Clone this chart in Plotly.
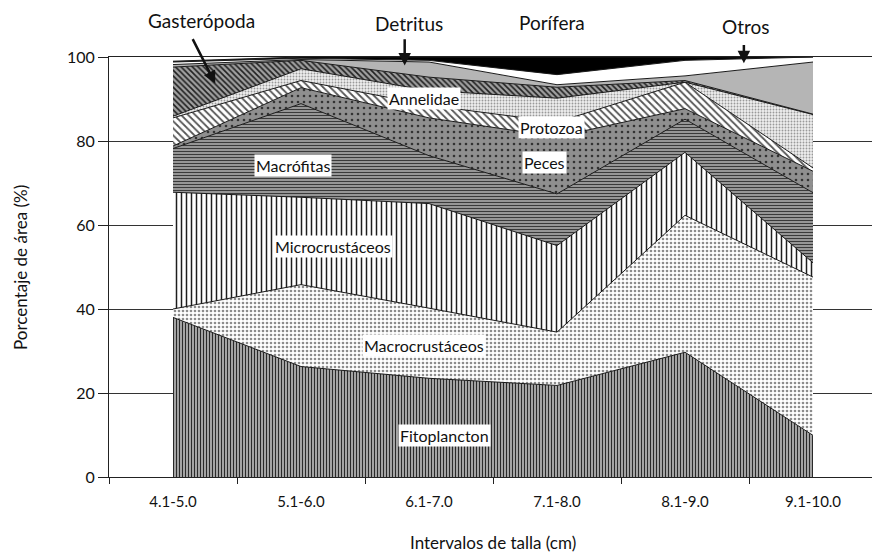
import plotly.graph_objects as go

categories = ["4.1-5.0", "5.1-6.0", "6.1-7.0", "7.1-8.0", "8.1-9.0", "9.1-10.0"]

fitoplancton = [38.0, 26.3, 23.5, 21.8, 29.7, 9.9]
macrocrustaceos = [2.0, 19.5, 16.7, 12.7, 32.6, 37.7]
microcrustaceos = [27.8, 20.8, 24.9, 20.6, 15.0, 3.4]
macrofitas = [10.4, 22.3, 11.4, 12.3, 7.9, 16.7]
peces = [0.6, 3.8, 9.0, 13.6, 2.5, 5.1]
protozoa = [6.7, 1.7, 3.0, 3.5, 6.3, 0.8]
annelidae = [0.4, 2.8, 3.5, 5.7, 0.0, 12.7]
gasteropoda = [11.7, 2.0, 3.2, 2.6, 0.4, 0.1]
detritus = [0.6, 0.2, 3.6, 0.6, 1.1, 12.4]
otros = [0.6, 0.3, 0.4, 2.4, 3.7, 1.2]
porifera = [0.2, 0.3, 0.8, 4.2, 0.8, 0.0]

series = [
    ("Fitoplancton", fitoplancton, dict(shape="|", bgcolor="#a3a3a3", fgcolor="#2a2a2a", size=3, solidity=0.35), None),
    ("Macrocrustáceos", macrocrustaceos, dict(shape=".", bgcolor="#ffffff", fgcolor="#8c8c8c", size=4, solidity=0.35), None),
    ("Microcrustáceos", microcrustaceos, dict(shape="|", bgcolor="#ffffff", fgcolor="#1e1e1e", size=5, solidity=0.3), None),
    ("Macrófitas", macrofitas, dict(shape="-", bgcolor="#a0a0a0", fgcolor="#3a3a3a", size=3, solidity=0.4), None),
    ("Peces", peces, dict(shape=".", bgcolor="#8f8f8f", fgcolor="#333333", size=6, solidity=0.15), None),
    ("Protozoa", protozoa, dict(shape="\\", bgcolor="#ffffff", fgcolor="#555555", size=5, solidity=0.35), None),
    ("Annelidae", annelidae, dict(shape=".", bgcolor="#eeeeee", fgcolor="#999999", size=3, solidity=0.3), None),
    ("Gasterópoda", gasteropoda, dict(shape="\\", bgcolor="#a0a0a0", fgcolor="#202020", size=4, solidity=0.4), None),
    ("Detritus", detritus, None, "#b5b5b5"),
    ("Otros", otros, None, "#ffffff"),
    ("Porífera", porifera, None, "#000000"),
]

fig = go.Figure()
for name, vals, pat, solid in series:
    kw = dict(
        x=list(range(len(categories))),
        y=vals,
        name=name,
        mode="lines",
        stackgroup="one",
        line=dict(color="#1a1a1a", width=1),
        hoverinfo="skip",
    )
    if pat is not None:
        kw["fillpattern"] = dict(fillmode="replace", **pat)
        kw["fillcolor"] = pat["bgcolor"]
    else:
        kw["fillcolor"] = solid
    fig.add_trace(go.Scatter(**kw))

FONT = "Lato, Open Sans, sans-serif"

# labels inside the chart (data coordinates)
inner_labels = [
    ("Fitoplancton", 2.12, 9.9),
    ("Macrocrustáceos", 1.96, 31.3),
    ("Microcrustáceos", 1.25, 54.9),
    ("Macrófitas", 0.94, 74.2),
    ("Annelidae", 1.96, 90.1),
    ("Protozoa", 2.96, 83.2),
    ("Peces", 2.9, 74.9),
]
for txt, x, y in inner_labels:
    fig.add_annotation(x=x, y=y, xref="x", yref="y", text=txt, showarrow=False,
                       bgcolor="#ffffff", borderpad=1,
                       font=dict(family=FONT, size=16, color="#111111"))

# top labels (paper coordinates, above the plot)
top_labels = [
    ("Gasterópoda", 0.120, 1.086),
    ("Detritus", 0.391, 1.080),
    ("Porífera", 0.577, 1.081),
    ("Otros", 0.829, 1.073),
]
for txt, x, y in top_labels:
    fig.add_annotation(x=x, y=y, xref="paper", yref="paper", xanchor="center", yanchor="middle",
                       text=txt, showarrow=False,
                       font=dict(family=FONT, size=19, color="#111111"))

arrows = [
    (0.148, 104.6, 0.33, 93.7),
    (1.81, 104.6, 1.81, 98.0),
    (2.94, 103.9, 2.94, 100.8),
    (4.46, 103.2, 4.46, 98.5),
]
for x0, y0, x1, y1 in arrows:
    fig.add_annotation(x=x1, y=y1, ax=x0, ay=y0, xref="x", yref="y", axref="x", ayref="y",
                       text="", showarrow=True, arrowhead=2, arrowsize=1, arrowwidth=2.5,
                       arrowcolor="#111111")

# axis titles
fig.add_annotation(x=-0.116, y=0.5, xref="paper", yref="paper", xanchor="center", yanchor="middle",
                   text="Porcentaje de área (%)", textangle=-90, showarrow=False,
                   font=dict(family=FONT, size=17, color="#111111"))
fig.add_annotation(x=0.5, y=-0.157, xref="paper", yref="paper", xanchor="center", yanchor="middle",
                   text="Intervalos de talla (cm)", showarrow=False,
                   font=dict(family=FONT, size=17, color="#111111"))

fig.update_layout(
    width=880, height=553,
    margin=dict(l=101, r=11, t=49, b=84, autoexpand=False),
    paper_bgcolor="#ffffff", plot_bgcolor="#ffffff",
    showlegend=False,
    font=dict(family=FONT, size=16, color="#111111"),
    xaxis=dict(
        type="linear",
        range=[-0.5, 5.5],
        tickmode="array",
        tickvals=list(range(len(categories))),
        ticktext=categories,
        showgrid=False, zeroline=False,
        showline=True, linecolor="#222222", linewidth=1, mirror=True,
        ticks="", tickfont=dict(size=15), ticklabelstandoff=11, automargin=False,
    ),
    yaxis=dict(
        range=[0, 100], dtick=20,
        showgrid=True, gridcolor="#333333", gridwidth=1,
        zeroline=False,
        showline=True, linecolor="#222222", linewidth=1, mirror=True,
        ticks="outside", ticklen=10, tickcolor="#222222",
        tickfont=dict(size=16), automargin=False,
    ),
    xaxis2=dict(
        overlaying="x", side="bottom", range=[-0.5, 5.5], anchor="y",
        tickmode="array", tickvals=[-0.5 + i for i in range(7)], ticktext=[""] * 7,
        ticks="outside", ticklen=6, tickcolor="#222222",
        showgrid=False, zeroline=False, showline=False, automargin=False,
    ),
)

fig.add_trace(go.Scatter(x=[-0.5], y=[0], xaxis="x2", mode="markers",
                         marker=dict(opacity=0), hoverinfo="skip", showlegend=False))

fig.write_html("out.html")
